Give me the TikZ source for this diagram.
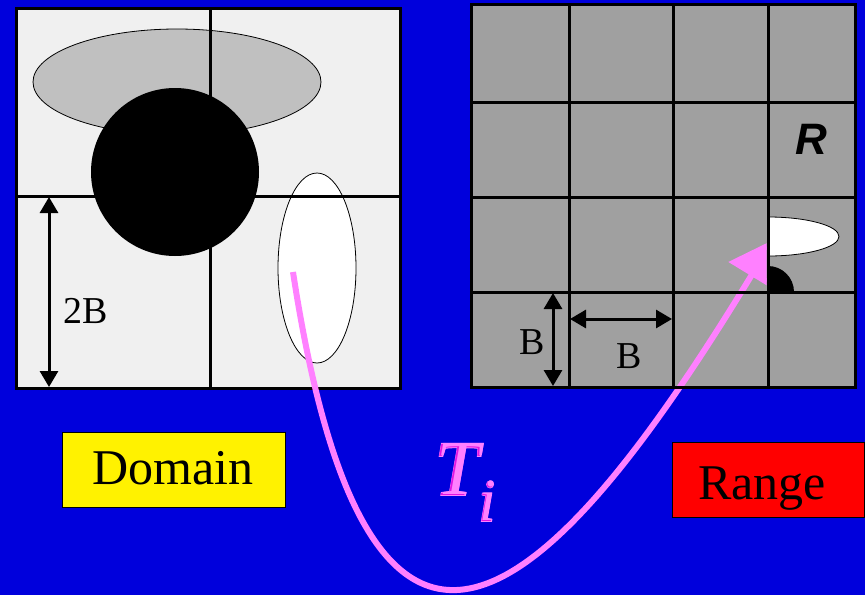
\documentclass[tikz,border=0pt]{standalone}
\usepackage{fontspec}
\setmainfont{Liberation Serif}
\newfontfamily\rsans{Liberation Sans}
\newfontface\tfakeb{Liberation Serif Italic}[FakeBold=2.5]
\usetikzlibrary{arrows.meta}
\definecolor{bg}{RGB}{0,0,220}
\definecolor{dfill}{RGB}{240,240,240}
\definecolor{lgray}{RGB}{192,192,192}
\definecolor{rgray}{RGB}{160,160,160}
\definecolor{tpink}{RGB}{255,128,255}
\definecolor{tdark}{RGB}{225,20,225}
\newcommand\embossed[1]{\rlap{\color{tpink}\tfakeb #1}\rlap{\color{tdark}\itshape #1}{\color{tpink}\itshape\kern1.3pt\raisebox{0.7pt}{#1}}}
\tikzset{
  gridline/.style={line width=3pt, draw=black},
  dimarrow/.style={line width=3pt, {Triangle[length=16pt,width=18pt]}-{Triangle[length=16pt,width=18pt]}},
  dimlabel/.style={inner sep=0pt, font=\fontsize{38}{38}\selectfont},
  boxlabel/.style={draw=black, line width=0.8pt, inner sep=0pt},
  boxtext/.style={inner sep=0pt, font=\fontsize{50}{50}\selectfont},
  outl/.style={line width=0.8pt, draw=black},
}
\begin{document}
\begin{tikzpicture}[x=1pt,y=-1pt]
\fill[bg] (0,0) rectangle (865,595);
\useasboundingbox (0,0) rectangle (865,595);
% ---------- Domain ----------
\fill[dfill] (16,8) rectangle (400,388);
\filldraw[fill=lgray, outl] (177,82) ellipse [x radius=144, y radius=53];
\fill[black] (175,172) circle [radius=84];
\filldraw[fill=white, outl] (317,268) ellipse [x radius=39, y radius=95];
\draw[gridline] (16,196) -- (400,196);
\draw[gridline] (210,8) -- (210,388);
\draw[gridline] (16,8) rectangle (400,388);
\coordinate (d2t) at (49,197);
\coordinate (d2b) at (49,387);
\draw[dimarrow] (d2t) -- (d2b);
\node[dimlabel] (l2B) at (86,311) {2B};
% ---------- Range ----------
\fill[rgray] (471,4) rectangle (855,387);
\begin{scope}
  \clip (768,150) rectangle (855,292);
  \fill[black] (768,292) circle [radius=26];
  \filldraw[fill=white, outl] (768,236.5) ellipse [x radius=71, y radius=19.5];
\end{scope}
% ---------- Transformation arrow ----------
\coordinate (ts) at (293,272);
\coordinate (te) at (773,240);
\begin{scope}
  \clip (0,0) rectangle (766.5,595);
  \draw[tpink, line width=6pt, -{Triangle[length=42pt,width=52pt]}]
    (ts) .. controls (372,790) and (560,590) .. (te);
\end{scope}
\foreach \x in {569,673,768} \draw[gridline] (\x,4) -- (\x,387);
\foreach \y in {102,197,292} \draw[gridline] (471,\y) -- (855,\y);
\draw[gridline] (471,4) rectangle (855,387);
\coordinate (rbt) at (553,293);
\coordinate (rbb) at (553,386);
\draw[dimarrow] (rbt) -- (rbb);
\coordinate (rbl) at (570,319);
\coordinate (rbr) at (672,319);
\draw[dimarrow] (rbl) -- (rbr);
\node[dimlabel] (lBv) at (532,342) {B};
\node[dimlabel] (lBh) at (629,356) {B};
\node[inner sep=0pt, font=\rsans\bfseries\itshape\fontsize{44}{44}\selectfont] (lR) at (811,139) {R};
% ---------- Labels ----------
\node[boxlabel, fill=yellow, minimum width=223pt, minimum height=75pt] (dom) at (173.5,469.5) {};
\node[boxtext] (domt) at (173,468) {Domain};
\node[boxlabel, fill=red, minimum width=192pt, minimum height=75pt] (ran) at (768,479.5) {};
\node[boxtext] (rant) at (762,489) {Range};
\node[inner sep=0pt, anchor=base west] (Ti) at (434.5,495)
  {\fontsize{78}{78}\selectfont\embossed{T}\kern-1pt\raisebox{-26pt}{\fontsize{60}{60}\selectfont\embossed{i}}};
\end{tikzpicture}
\end{document}
